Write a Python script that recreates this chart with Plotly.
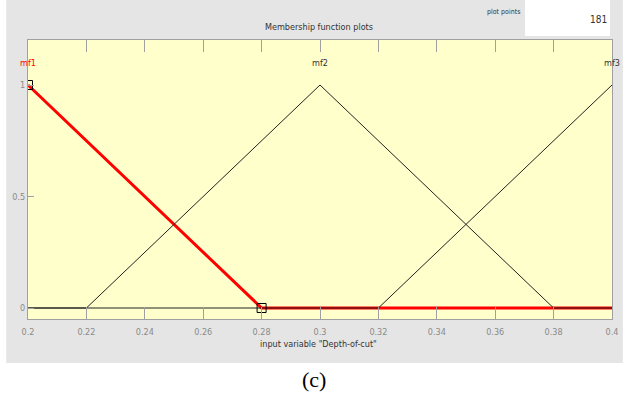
import plotly.graph_objects as go

# ---- data ----
mf1_x = [0.2, 0.28, 0.4]
mf1_y = [1, 0, 0]
mf2_x = [0.2, 0.22, 0.3, 0.38, 0.4]
mf2_y = [0, 0, 1, 0, 0]
mf3_x = [0.2, 0.32, 0.4]
mf3_y = [0, 0, 1]
mf_names = ["mf1", "mf2", "mf3"]
mf_label_x = [0.2, 0.3, 0.4]
x_ticks = [0.2, 0.22, 0.24, 0.26, 0.28, 0.3, 0.32, 0.34, 0.36, 0.38, 0.4]
x_ticklabels = ["0.2", "0.22", "0.24", "0.26", "0.28", "0.3", "0.32", "0.34", "0.36", "0.38", "0.4"]
y_ticks = [0, 0.5, 1]
y_ticklabels = ["0", "0.5", "1"]
sel_x = [0.2, 0.28]
sel_y = [1, 0]

W, H = 630, 398
L, R, T, B = 26, 617, 40, 319
FONT = "Liberation Sans Narrow, DejaVu Sans Condensed, Arial Narrow, Liberation Sans, Arial, sans-serif"
GRAY_TXT = "#8a8a8a"
AXIS = "#a0a0a0"

fig = go.Figure()
fig.add_trace(go.Scatter(x=mf1_x, y=mf1_y, mode="lines",
                         line=dict(color="#ff0000", width=3), hoverinfo="skip"))
fig.add_trace(go.Scatter(x=mf2_x, y=mf2_y, mode="lines",
                         line=dict(color="#222222", width=1), hoverinfo="skip"))
fig.add_trace(go.Scatter(x=mf3_x, y=mf3_y, mode="lines",
                         line=dict(color="#222222", width=1), hoverinfo="skip"))
fig.add_trace(go.Scatter(x=sel_x, y=sel_y, mode="markers",
                         marker=dict(symbol="square-open", size=9,
                                     color="#000000", line=dict(width=1)),
                         hoverinfo="skip"))

def px(x):
    return (x - L) / (R - L)

def py(y):
    return (B - y) / (B - T)

shapes = [
    dict(type="rect", xref="paper", yref="paper", x0=px(4), x1=px(628),
         y0=py(363), y1=py(0), fillcolor="#e5e5e5", line=dict(width=0), layer="below"),
    dict(type="rect", xref="paper", yref="paper", x0=px(529), x1=px(615),
         y0=py(36), y1=py(0), fillcolor="#ffffff", line=dict(width=0), layer="below"),
    dict(type="rect", xref="paper", yref="paper", x0=0, x1=1, y0=0, y1=1,
         fillcolor="#ffffcc", line=dict(width=0), layer="below"),
]

annotations = [
    dict(text="Membership function plots", xref="paper", yref="paper",
         x=px(320), y=py(27), showarrow=False, xanchor="center", yanchor="middle",
         font=dict(family=FONT, size=9, color="#333333")),
    dict(text="plot points", xref="paper", yref="paper",
         x=px(507), y=py(12), showarrow=False, xanchor="center", yanchor="middle",
         font=dict(family=FONT, size=7, color="#333333")),
    dict(text="181", xref="paper", yref="paper",
         x=px(614), y=py(20), showarrow=False, xanchor="right", yanchor="middle",
         font=dict(family=FONT, size=10, color="#333333")),
    dict(text='input variable "Depth-of-cut"', xref="paper", yref="paper",
         x=px(320), y=py(344), showarrow=False, xanchor="center", yanchor="middle",
         font=dict(family=FONT, size=9, color="#333333")),
    dict(text="(c)", xref="paper", yref="paper",
         x=px(315), y=py(379), showarrow=False, xanchor="center", yanchor="middle",
         font=dict(family="Liberation Serif, Times New Roman, serif", size=22, color="#000000")),
]
label_colors = ["#ff0000", "#333333", "#333333"]
for name, lx, col in zip(mf_names, mf_label_x, label_colors):
    annotations.append(dict(text=name, x=lx, y=1.099, xref="x", yref="y",
                            showarrow=False, xanchor="center", yanchor="middle",
                            font=dict(family=FONT, size=9, color=col)))

fig.update_layout(
    width=W, height=H,
    margin=dict(l=L, r=W - R, t=T, b=H - B),
    paper_bgcolor="#ffffff",
    plot_bgcolor="rgba(0,0,0,0)",
    showlegend=False,
    shapes=shapes,
    annotations=annotations,
    xaxis=dict(range=[0.2, 0.4], tickvals=x_ticks, ticktext=x_ticklabels,
               ticks="inside", ticklen=12, tickcolor=AXIS, tickwidth=1,
               showline=True, linecolor=AXIS, linewidth=1, mirror="ticks",
               showgrid=False, zeroline=False, ticklabelstandoff=4,
               tickfont=dict(family=FONT, size=9, color=GRAY_TXT)),
    yaxis=dict(range=[-0.0493, 1.2018], tickvals=y_ticks, ticktext=y_ticklabels,
               ticks="inside", ticklen=6, tickcolor=AXIS, tickwidth=1,
               showline=True, linecolor=AXIS, linewidth=1, mirror=True,
               showgrid=False, zeroline=False,
               tickfont=dict(family=FONT, size=9, color=GRAY_TXT)),
)

fig.write_html("out.html")
